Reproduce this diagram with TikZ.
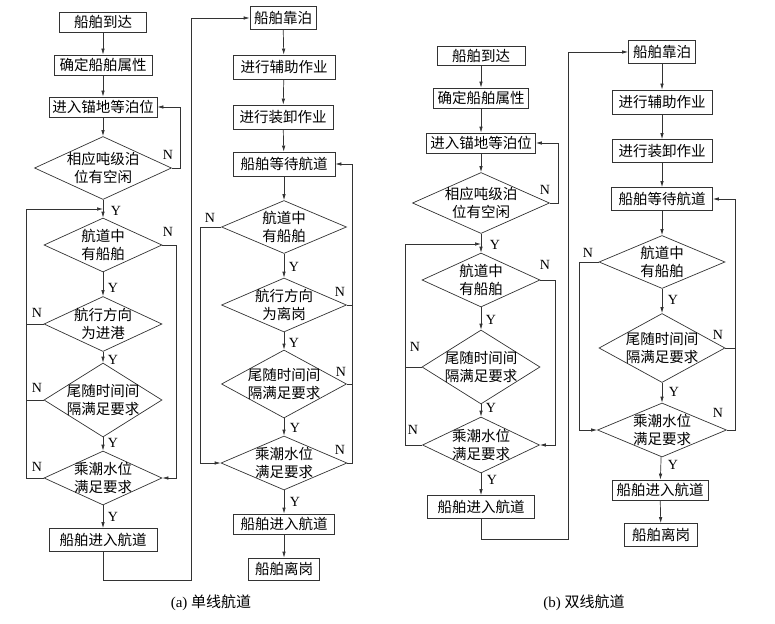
\documentclass[tikz,border=0pt]{standalone}
\usepackage{fontspec}
\setmainfont{Liberation Serif}
\newfontfamily\cjk{Noto Sans CJK SC}
\usetikzlibrary{shapes.geometric,arrows.meta}

\begin{document}
\begin{tikzpicture}[
        x=1pt, y=-1pt,
        line width=0.7pt, draw=black!80,
        box/.style 2 args={draw, minimum width=#1, minimum height=#2, inner sep=0pt, font=\cjk\fontsize{14.5}{16}\selectfont},
        dec/.style 2 args={diamond, draw, minimum width=#1, minimum height=#2, inner sep=0pt},
        dtxt/.style={align=center, inner sep=0pt, font=\cjk\fontsize{14.5}{17.5}\selectfont},
        yn/.style={inner sep=0pt, font=\fontsize{14}{14}\selectfont},
        captxt/.style={inner sep=0pt, font=\fontsize{15}{17}\selectfont},
        arr/.style={-{Latex[length=6pt,width=3.5pt]}}
    ]

    \useasboundingbox (0,0) rectangle (775,623);

    % (a) single lane: arrival side
    \node[box={87}{20}] (a1) at (103,22) {船舶到达};
    \node[box={98}{20}] (a2) at (103,65) {确定船舶属性};
    \node[box={108}{20}] (a3) at (103,107) {进入锚地等泊位};
    \node[dec={137}{63}, label={[dtxt]center:相应吨级泊\\位有空闲}] (d1) at (103,168) {};
    \node[dec={118}{54}, label={[dtxt]center:航道中\\有船舶}] (d2) at (103,245) {};
    \node[dec={118}{55}, label={[dtxt]center:航行方向\\为进港}] (d3) at (103,324) {};
    \node[dec={118}{74}, label={[dtxt]center:尾随时间间\\隔满足要求}] (d4) at (103,400) {};
    \node[dec={118}{54}, label={[dtxt]center:乘潮水位\\满足要求}] (d5) at (103,478) {};
    \node[box={108}{23}] (a4) at (103,540) {船舶进入航道};
    \coordinate (m1) at (103,209);
    \coordinate (jA) at (191,580);

    % (a) single lane: berth side
    \node[box={66}{23}] (b1) at (283,18) {船舶靠泊};
    \node[box={102}{24}] (b2) at (284,67) {进行辅助作业};
    \node[box={100}{24}] (b3) at (283,117) {进行装卸作业};
    \node[box={102}{24}] (b4) at (284,164) {船舶等待航道};
    \node[dec={125}{53}, label={[dtxt]center:航道中\\有船舶}] (e1) at (284,227) {};
    \node[dec={125}{54}, label={[dtxt]center:航行方向\\为离岗}] (e2) at (284,305) {};
    \node[dec={125}{68}, label={[dtxt]center:尾随时间间\\隔满足要求}] (e3) at (284,384) {};
    \node[dec={126}{54}, label={[dtxt]center:乘潮水位\\满足要求}] (e4) at (284,463) {};
    \node[box={101}{20}] (b5) at (284,524) {船舶进入航道};
    \node[box={71}{22}] (b6) at (284,569) {船舶离岗};

    % (b) double lane: arrival side
    \node[box={88}{19}] (c1) at (481,56) {船舶到达};
    \node[box={95}{20}] (c2) at (481,98) {确定船舶属性};
    \node[box={109}{20}] (c3) at (481,143) {进入锚地等泊位};
    \node[dec={137}{61}, label={[dtxt]center:相应吨级泊\\位有空闲}] (f1) at (481,203) {};
    \node[dec={118}{54}, label={[dtxt]center:航道中\\有船舶}] (f2) at (481,280) {};
    \node[dec={118}{74}, label={[dtxt]center:尾随时间间\\隔满足要求}] (f3) at (481,367) {};
    \node[dec={117}{56}, label={[dtxt]center:乘潮水位\\满足要求}] (f4) at (481,445) {};
    \node[box={107}{23}] (c4) at (481,507) {船舶进入航道};
    \coordinate (m2) at (481,244);
    \coordinate (jB) at (568,539);

    % (b) double lane: berth side
    \node[box={67}{23}] (g1) at (662,52) {船舶靠泊};
    \node[box={100}{24}] (g2) at (662,102) {进行辅助作业};
    \node[box={100}{23}] (g3) at (662,151) {进行装卸作业};
    \node[box={101}{23}] (g4) at (662,199) {船舶等待航道};
    \node[dec={126}{53}, label={[dtxt]center:航道中\\有船舶}] (h1) at (662,262) {};
    \node[dec={126}{69}, label={[dtxt]center:尾随时间间\\隔满足要求}] (h2) at (662,348) {};
    \node[dec={129}{54}, label={[dtxt]center:乘潮水位\\满足要求}] (h3) at (662,430) {};
    \node[box={96}{20}] (g5) at (660,490) {船舶进入航道};
    \node[box={73}{23}] (g6) at (661,535) {船舶离岗};

    % straight flow
    \foreach \u/\v in {a1/a2,a2/a3,a3/d1,d1/d2,d2/d3,d3/d4,d4/d5,d5/a4,
                       b1/b2,b2/b3,b3/b4,b4/e1,e1/e2,e2/e3,e3/e4,e4/b5,b5/b6,
                       c1/c2,c2/c3,c3/f1,f1/f2,f2/f3,f3/f4,f4/c4,
                       g1/g2,g2/g3,g3/g4,g4/h1,h1/h2,h2/h3,h3/g5,g5/g6}
        \draw[arr] (\u) -- (\v);

    % loops of (a)
    \draw[arr] (d1.east) -- ++(8,0) |- (a3.east);
    \draw[arr] (d2.east) -- ++(14,0) |- (d5.east);
    \draw (d3.west) -- ++(-17,0);
    \draw (d4.west) -- ++(-17,0);
    \draw[arr] (d5.west) -- ++(-17,0) |- (m1);
    \draw[arr] (a4.south) |- (jA) |- (b1.west);
    \draw[arr] (e1.west) -- ++(-20.5,0) |- (e4.west);
    \draw (e2.east) -- ++(5.5,0);
    \draw (e3.east) -- ++(5.5,0);
    \draw[arr] (e4.east) -- ++(5,0) |- (b4.east);

    % loops of (b)
    \draw[arr] (f1.east) -- ++(8.5,0) |- (c3.east);
    \draw[arr] (f2.east) -- ++(15,0) |- (f4.east);
    \draw (f3.west) -- ++(-16,0);
    \draw[arr] (f4.west) -- ++(-16.5,0) |- (m2);
    \draw[arr] (c4.south) |- (jB) |- (g1.west);
    \draw[arr] (h1.west) -- ++(-19,0) |- (h3.west);
    \draw (h2.east) -- ++(10,0);
    \draw[arr] (h3.east) -- ++(8.5,0) |- (g4.east);

    % Y / N labels
    \node[yn] (ya1) at (116,211) {Y};
    \node[yn] (ya2) at (113,288) {Y};
    \node[yn] (ya3) at (113,360) {Y};
    \node[yn] (ya4) at (113,443) {Y};
    \node[yn] (ya5) at (113,517) {Y};
    \node[yn] (na1) at (168,155) {N};
    \node[yn] (na2) at (168,232) {N};
    \node[yn] (na3) at (37,313) {N};
    \node[yn] (na4) at (37,388) {N};
    \node[yn] (na5) at (37,467) {N};
    \node[yn] (yb1) at (294,267) {Y};
    \node[yn] (yb2) at (294,343) {Y};
    \node[yn] (yb3) at (295,428) {Y};
    \node[yn] (yb4) at (295,502) {Y};
    \node[yn] (nb1) at (210,218) {N};
    \node[yn] (nb2) at (340,292) {N};
    \node[yn] (nb3) at (341,372) {N};
    \node[yn] (nb4) at (340,450) {N};
    \node[yn] (yc1) at (495,245) {Y};
    \node[yn] (yc2) at (491,320) {Y};
    \node[yn] (yc3) at (491,408) {Y};
    \node[yn] (yc4) at (492,480) {Y};
    \node[yn] (nc1) at (545,190) {N};
    \node[yn] (nc2) at (545,265) {N};
    \node[yn] (nc3) at (415,347) {N};
    \node[yn] (nc4) at (413,430) {N};
    \node[yn] (yd1) at (673,300) {Y};
    \node[yn] (yd2) at (674,392) {Y};
    \node[yn] (yd3) at (673,465) {Y};
    \node[yn] (nd1) at (588,253) {N};
    \node[yn] (nd2) at (718,335) {N};
    \node[yn] (nd3) at (718,413) {N};

    % captions
    \node[captxt] (capA) at (211,603) {(a) {\cjk 单线航道}};
    \node[captxt] (capB) at (584,603) {(b) {\cjk 双线航道}};

\end{tikzpicture}
\end{document}
